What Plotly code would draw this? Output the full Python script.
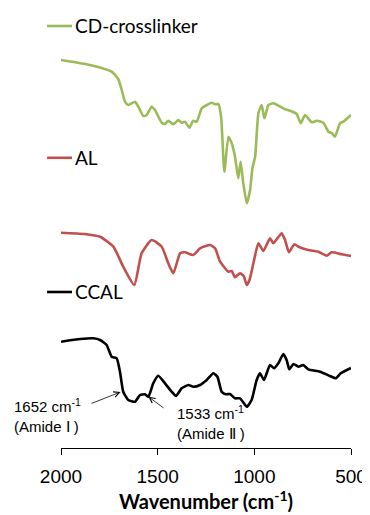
import plotly.graph_objects as go

# Wavenumbers (cm-1) and offset transmittance (arb. units)
cd_wn = [2000, 1850, 1738, 1704, 1686, 1669, 1652, 1617, 1600, 1574, 1557, 1531, 1514, 1479, 1462,
         1445, 1419, 1393, 1376, 1359, 1336, 1316, 1298, 1272, 1246, 1220, 1203, 1186, 1172, 1155,
         1134, 1117, 1100, 1083, 1071, 1057, 1039, 1022, 1010, 996, 979, 962, 948, 927, 902, 841,
         815, 781, 760, 738, 703, 677, 643, 617, 600, 583, 557, 540, 500]
cd_t = [38.8, 38.3, 37.63, 36.9, 35.8, 34.63, 34.3, 34.63, 34.13, 33.2, 33.3, 34.13, 33.8, 32.53, 32.4,
        32.73, 32.37, 32.8, 32.53, 32.63, 32.03, 32.73, 32.63, 33.97, 34.3, 34.53, 34.37, 34.4, 33.13, 27.63,
        31.13, 30.47, 29.13, 26.97, 28.63, 26.47, 24.47, 25.8, 27.97, 29.13, 33.47, 34.3, 32.97, 34.3, 34.47, 33.87,
        33.73, 33.4, 32.47, 33.3, 32.57, 32.73, 32.53, 31.63, 31.5, 31.13, 32.47, 32.63, 33.3]

al_wn = [2000, 1880, 1798, 1729, 1678, 1621, 1583, 1531, 1479, 1445, 1419, 1384, 1359, 1316, 1281,
         1229, 1203, 1177, 1134, 1117, 1100, 1074, 1055, 1039, 1025, 1005, 979, 953, 919, 902, 859,
         841, 821, 793, 772, 721, 669, 626, 600, 548, 500]
al_t = [21.53, 21.4, 21.13, 20.13, 18.13, 16.3, 19.47, 20.8, 20.13, 18.47, 17.47, 19.47, 19.57, 19.3, 19.97,
        20.3, 19.97, 18.63, 17.63, 17.7, 17.07, 17.47, 17.2, 16.3, 16.8, 18.47, 20.47, 19.7, 20.97, 20.47, 21.47,
        20.8, 19.57, 20.37, 20.13, 19.8, 19.63, 19.23, 19.57, 19.37, 19.2]

ccal_wn = [2000, 1900, 1833, 1798, 1764, 1738, 1712, 1695, 1678, 1652, 1617, 1591, 1566, 1548, 1523,
           1497, 1462, 1428, 1405, 1376, 1341, 1316, 1281, 1246, 1212, 1191, 1169, 1147, 1126, 1100,
           1074, 1039, 1014, 988, 971, 950, 919, 898, 876, 850, 833, 819, 798, 772, 747, 721, 660,
           609, 578, 553, 500]
ccal_t = [10.63, 10.9, 10.97, 10.8, 10.3, 9.13, 8.97, 7.63, 5.63, 4.8, 4.63, 5.3, 5.37, 5.13, 6.47,
          7.23, 6.47, 5.63, 5.2, 5.97, 6.3, 6.13, 6.3, 6.8, 7.47, 7.13, 5.63, 5.37, 5.4, 4.97,
          4.97, 4.13, 4.8, 6.8, 7.47, 6.8, 8.3, 7.97, 8.47, 9.4, 8.8, 7.87, 8.4, 8.13, 8.3, 7.87, 7.63,
          7.2, 6.97, 7.47, 8.0]

series_names = ["CD-crosslinker", "AL", "CCAL"]
series_colors = ["#9BBB59", "#C0504D", "#000000"]
tick_vals = [2000, 1500, 1000, 500]

fig = go.Figure()
for name, wn, t, col in zip(series_names, [cd_wn, al_wn, ccal_wn], [cd_t, al_t, ccal_t], series_colors):
    fig.add_trace(go.Scatter(x=wn, y=t, mode="lines", name=name,
                             line=dict(color=col, width=2.6, shape="spline", smoothing=0.5)))

legend_y = [0.986, 0.678, 0.3645]
for name, col, yy in zip(series_names, series_colors, legend_y):
    fig.add_shape(type="line", xref="paper", yref="paper", x0=-0.048, x1=0.038, y0=yy, y1=yy,
                  line=dict(color=col, width=2.6))
    fig.add_annotation(text=name, xref="paper", yref="paper", x=0.041, y=yy, xanchor="left",
                       yanchor="middle", showarrow=False,
                       font=dict(family="Lato", size=19, color="black"))

# arrows
fig.add_annotation(x=1692, y=5.6, ax=1850, ay=4.4, xref="x", yref="y", axref="x", ayref="y",
                   text="", showarrow=True, arrowhead=5, arrowsize=1.4, arrowwidth=0.8, arrowcolor="black")
fig.add_annotation(x=1548, y=5.13, ax=1462, ay=3.9, xref="x", yref="y", axref="x", ayref="y",
                   text="", showarrow=True, arrowhead=5, arrowsize=1.4, arrowwidth=0.8, arrowcolor="black")

fig.add_annotation(text="1652 cm<sup>-1</sup><br>(Amide \u2160 )", xref="paper", yref="y",
                   x=-0.169, y=3.3, xanchor="left", yanchor="middle", align="left", showarrow=False,
                   font=dict(family="Liberation Sans", size=15, color="black"))
fig.add_annotation(text="1533 cm<sup>-1</sup><br>(Amide \u2161 )", xref="paper", yref="y",
                   x=0.393, y=2.6, xanchor="left", yanchor="middle", align="left", showarrow=False,
                   font=dict(family="Liberation Sans", size=15, color="black"))

# the page body adds an 8px offset, so the figure is sized to fit inside the window
fig.update_layout(
    template="none",
    width=362, height=507,
    margin=dict(l=53, r=19, t=12, b=67, pad=0, autoexpand=False),
    paper_bgcolor="white", plot_bgcolor="white",
    showlegend=False,
    xaxis=dict(range=[2000, 500], tickvals=tick_vals, ticks="outside", ticklen=6, tickcolor="black",
               tickwidth=1, automargin=False, ticklabelstandoff=5,
               showline=True, linecolor="black", linewidth=1, showgrid=False, zeroline=False,
               tickfont=dict(family="Liberation Sans", size=19, color="black"),
               title=dict(text="<b>Wavenumber (cm<sup>-1</sup>)</b>", standoff=6,
                          font=dict(family="Lato", size=20, color="black"))),
    yaxis=dict(range=[0, 42.8], visible=False, showgrid=False, zeroline=False, automargin=False),
)

fig.write_html("out.html")
